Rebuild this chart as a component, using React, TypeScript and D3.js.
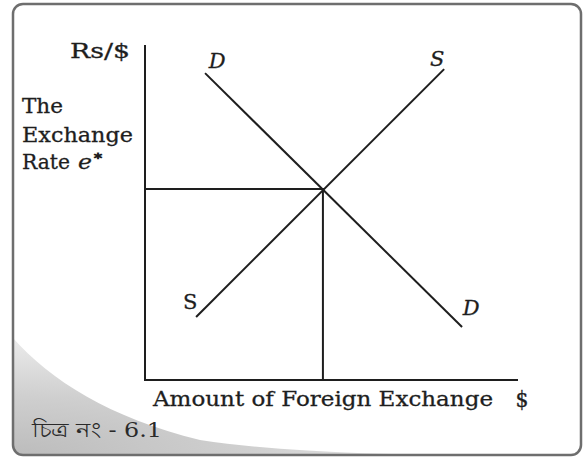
import React, { useEffect, useRef } from 'react'
import * as d3 from 'd3'

// line end points in chart units (0-100 on both axes)
const demand: [number, number][] = [[16.1, 91.6], [85.0, 15.8]]
const supply: [number, number][] = [[13.7, 18.8], [80.2, 92.8]]
const equilibrium: [number, number] = [47.7, 57.0]
const yTitleLines = ['The', 'Exchange', 'Rate']
const yUnit = 'Rs/$'
const xTitle = 'Amount of Foreign Exchange'
const xUnit = '$'
const caption = 'চিত্র নং - 6.1'

const App = () => {
  const svgRef = useRef<SVGSVGElement>(null)

  useEffect(() => {
    const svg = d3.select(svgRef.current)
    svg.selectAll('*').remove()
    const width = 583
    const height = 458
    const font = '"DejaVu Serif", serif'
    const ink = '#1e1e1e'

    svg.attr('width', width).attr('height', height).style('background', '#fff')

    const x = d3.scaleLinear().domain([0, 100]).range([145, 518])
    const y = d3.scaleLinear().domain([0, 100]).range([380, 45])

    // page shading in the lower left corner
    const defs = svg.append('defs')
    const grad = defs
      .append('radialGradient')
      .attr('id', 'shade')
      .attr('cx', '0%')
      .attr('cy', '100%')
      .attr('r', '100%')
    grad.append('stop').attr('offset', '0%').attr('stop-color', '#bcbcbc')
    grad.append('stop').attr('offset', '50%').attr('stop-color', '#cfcfcf')
    grad.append('stop').attr('offset', '100%').attr('stop-color', '#ebebeb')

    svg
      .append('path')
      .attr('d', 'M13,338 C50,380 110,418 200,440 C280,452 380,455 480,455 L22,455 Q13,455 13,446 Z')
      .attr('fill', 'url(#shade)')

    // frame
    svg
      .append('rect')
      .attr('x', 13)
      .attr('y', 4)
      .attr('width', 568)
      .attr('height', 451)
      .attr('rx', 10)
      .attr('fill', 'none')
      .attr('stroke', '#6e6e6e')
      .attr('stroke-width', 2.5)

    // axes
    svg
      .append('path')
      .attr('d', `M${x(0)},${y(100)}V${y(0)}H${x(100)}`)
      .attr('fill', 'none')
      .attr('stroke', ink)
      .attr('stroke-width', 2)

    // guides to equilibrium
    svg
      .append('path')
      .attr('d', `M${x(0)},${y(equilibrium[1])}H${x(equilibrium[0])}V${y(0)}`)
      .attr('fill', 'none')
      .attr('stroke', ink)
      .attr('stroke-width', 2)

    const line = d3
      .line<[number, number]>()
      .x((d) => x(d[0]))
      .y((d) => y(d[1]))

    svg.append('path').attr('d', line(demand)).attr('stroke', ink).attr('stroke-width', 2).attr('fill', 'none')
    svg.append('path').attr('d', line(supply)).attr('stroke', ink).attr('stroke-width', 2).attr('fill', 'none')

    const label = (text: string, p: [number, number], dx: number, dy: number, italic: boolean) =>
      svg
        .append('text')
        .attr('x', x(p[0]) + dx)
        .attr('y', y(p[1]) + dy)
        .attr('text-anchor', 'middle')
        .attr('font-family', font)
        .attr('font-style', italic ? 'italic' : 'normal')
        .attr('font-size', 21)
        .attr('fill', ink)
        .attr('stroke', ink)
        .attr('stroke-width', 0.3)
        .text(text)

    label('D', demand[0], 12, -5, true)
    label('D', demand[1], 9, -12, true)
    label('S', supply[1], -7, -3, true)
    label('S', supply[0], -6, -8, false)

    const txt = (s: string, tx: number, ty: number, len: number, anchor = 'start') =>
      svg
        .append('text')
        .attr('x', tx)
        .attr('y', ty)
        .attr('text-anchor', anchor)
        .attr('font-family', font)
        .attr('font-size', 20)
        .attr('fill', ink)
        .attr('stroke', ink)
        .attr('stroke-width', 0.3)
        .attr('textLength', len)
        .attr('lengthAdjust', 'spacingAndGlyphs')
        .text(s)

    // y axis titles
    txt(yUnit, 130, 58, 60, 'end')
    txt(yTitleLines[0], 22, 113, 41)
    txt(yTitleLines[1], 22, 142, 111)
    txt(yTitleLines[2], 22, 169, 48)
    txt('e', 78, 169, 14).attr('font-style', 'italic')
    txt('*', 94, 163, 8).attr('font-size', 13).attr('stroke-width', 0.8)

    // x axis title
    txt(xTitle, 153, 406, 340)
    txt(xUnit, 522, 407, 13, 'middle').attr('font-size', 22)

    svg
      .append('text')
      .attr('x', 32)
      .attr('y', 437)
      .attr('font-family', '"DejaVu Serif", serif')
      .attr('font-size', 21)
      .attr('fill', '#2a2a2a')
      .attr('textLength', 130)
      .attr('lengthAdjust', 'spacingAndGlyphs')
      .text(caption)
  }, [])

  return <svg ref={svgRef} style={{ position: 'absolute', left: 0, top: 0 }}></svg>
}

export default App
